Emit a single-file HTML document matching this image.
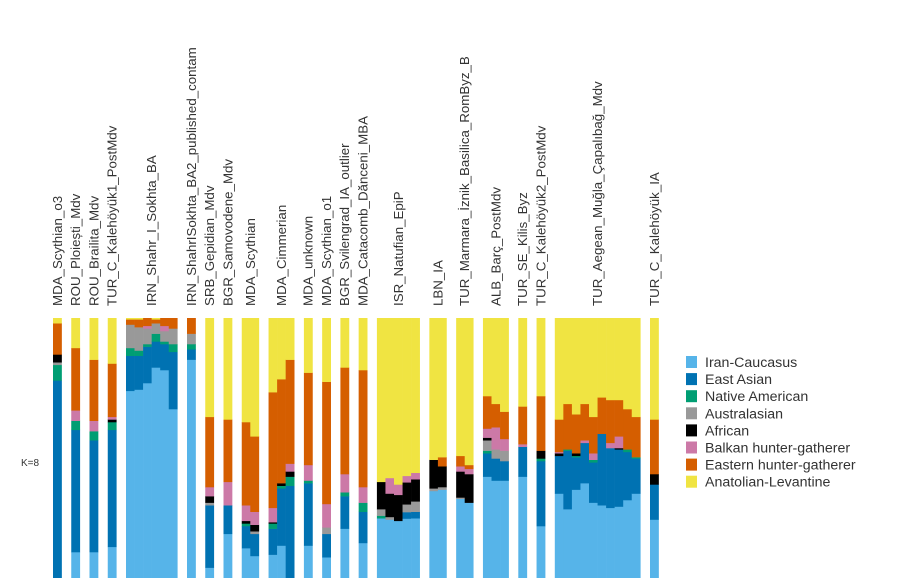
<!DOCTYPE html>
<html><head><meta charset="utf-8"><style>
html,body{margin:0;padding:0;background:#fff;}
svg{display:block;font-family:"Liberation Sans","DejaVu Sans",sans-serif;}
</style></head><body>
<svg id="chart" width="906" height="578" viewBox="0 0 906 578" xmlns="http://www.w3.org/2000/svg">
<text x="21" y="466" font-size="10" fill="#333">K=8</text>
<g id="bars"></g>
<g id="labels"></g>
<g id="legend"></g>
</svg>
<script>
// Ancestry components, bottom to top
const components = ["Iran-Caucasus","East Asian","Native American","Australasian","African","Balkan hunter-gatherer","Eastern hunter-gatherer","Anatolian-Levantine"];
const colors = ["#56B4E9","#0072B2","#009E73","#999999","#000000","#CC79A7","#D55E00","#F0E442"];
const populations = ["MDA_Scythian_o3","ROU_Ploiești_Mdv","ROU_Brailita_Mdv","TUR_C_Kalehöyük1_PostMdv","IRN_Shahr_I_Sokhta_BA","IRN_ShahrISokhta_BA2_published_contam","SRB_Gepidian_Mdv","BGR_Samovodene_Mdv","MDA_Scythian","MDA_Cimmerian","MDA_unknown","MDA_Scythian_o1","BGR_Svilengrad_IA_outlier","MDA_Catacomb_Dănceni_MBA","ISR_Natufian_EpiP","LBN_IA","TUR_Marmara_İznik_Basilica_RomByz_B","ALB_Barç_PostMdv","TUR_SE_Kilis_Byz","TUR_C_Kalehöyük2_PostMdv","TUR_Aegean_Muğla_Çapalıbağ_Mdv","TUR_C_Kalehöyük_IA"];
// Individual ancestry proportions (%) per population: [IC, EA, NatAm, Aus, Afr, BHG, EHG, Anat]
const pop0 = [[0,76,6,1,3,0,12,2]];
const pop1 = [[10,47,3.5,0,0,4,24,11.5]];
const pop2 = [[10,43,3.5,0,0,4,23.5,16]];
const pop3 = [[12,45,3,0,1,1,20.5,17.5]];
const pop4 = [[72,13.5,3,9,0,0,2,0.5],[72.5,13,2,9,0,0,3,0.5],[75,14,1,6,0,1,3,0],[81,10,3,4,0,0,1.5,0.5],[80,10,1,4,0,2,3,0],[65,22,3,6,0,0,4,0]];
const pop5 = [[84,4,2,4,0,0,6,0]];
const pop6 = [[4,24,0,1,2.5,3.5,27,38]];
const pop7 = [[17,11,0,0,0,9,24,39]];
const pop8 = [[11.5,8.5,1,0,1,6,32,40],[8.5,8.5,0,1,2.5,5,29,45.5]];
const pop9 = [[9,10,2,0,0.5,5.5,44.5,28.5],[12.5,22,1,0,1,0,40,23.5],[0,35.5,3.5,0,2,3,40,16]];
const pop10 = [[12.5,24,1,0,0,6,35.5,21]];
const pop11 = [[8,9,0,2.5,0,9,47,24.5]];
const pop12 = [[19,12.5,1.5,0,0,7,41,19]];
const pop13 = [[13.5,12,3.5,0,0,6,45,20]];
const pop14 = [[23,0,1,2.5,10.5,0,0,63],[22.5,0,0,1,9,6,0,61.5],[22,0,0,0,10,4,0,64],[23,2.5,0,3,8.5,2.5,0,61],[23,2.5,0,4,8.5,2.5,0,59.5]];
const pop15 = [[33.5,0,0,1,11,0,0,54.5],[34,0,0,1,8,0,3.5,53.5]];
const pop16 = [[30.5,0,0,0.5,10,2,4,53],[29,0,0,0,11,2,1.5,56.5]];
const pop17 = [[39,9,1,4,1,3.5,12.5,30],[37.5,8.5,0,3.5,0,8.5,9,33],[37.5,7.5,0,4,0,4.5,10.5,36]];
const pop18 = [[39,11.5,0,0,0,1,14.5,34]];
const pop19 = [[20,25,1,0,3,0,21,30]];
const pop20 = [[32.5,14.5,0,0,1,0.5,12.5,39],[26.5,22.5,0.5,0,0,0,17.5,33],[34,12.5,0.5,0,1,0,15,37],[36.5,15.5,0,0,0,1,14,33],[29,15.5,1,0,0,2.5,14,38],[28,27.5,0,0,0,0,14,30.5],[27,23,0,0,0,2,16.5,31.5],[27.5,22,0,0,0.5,4.5,14,31.5],[30,18.5,1,0,0,0,15.5,35],[32.5,13.5,0.5,0,0,0,15.5,38]];
const pop21 = [[22.5,13.5,0,0,4,0,21,39]];
const individuals = [pop0,pop1,pop2,pop3,pop4,pop5,pop6,pop7,pop8,pop9,pop10,pop11,pop12,pop13,pop14,pop15,pop16,pop17,pop18,pop19,pop20,pop21];

const NS="http://www.w3.org/2000/svg";
const plotTop=318, plotBottom=578, plotH=plotBottom-plotTop;
const x0=53, barW=8.55, gap=9.7;
function yScale(frac){return plotBottom-frac*plotH;}
const barsG=document.getElementById('bars'), labG=document.getElementById('labels');
let x=x0;
individuals.forEach((pop,gi)=>{
  const gx=x;
  pop.forEach((ind,ii)=>{
    const tot=ind.reduce((a,b)=>a+b,0);
    let cum=0;
    ind.forEach((v,ci)=>{
      if(v<=0) return;
      const y1=yScale(cum/tot), y2=yScale((cum+v)/tot);
      cum+=v;
      const r=document.createElementNS(NS,'rect');
      r.setAttribute('x',x.toFixed(2));
      r.setAttribute('y',y2.toFixed(2));
      r.setAttribute('width',(barW+0.3).toFixed(2));
      r.setAttribute('height',(y1-y2+0.3).toFixed(2));
      r.setAttribute('fill',colors[ci]);
      
      
      barsG.appendChild(r);
    });
    x+=barW;
  });
  const cx=(gx+x)/2+4.5;
  const t=document.createElementNS(NS,'text');
  t.setAttribute('transform','translate('+cx.toFixed(1)+',306) rotate(-90)');
  t.setAttribute('font-size','13.3');
  t.setAttribute('fill','#333');
  t.textContent=populations[gi];
  
  
  labG.appendChild(t);
  x+=gap;
});
const legG=document.getElementById('legend');
components.forEach((c,i)=>{
  const y=356+i*17.1;
  const r=document.createElementNS(NS,'rect');
  r.setAttribute('x',686);r.setAttribute('y',y);r.setAttribute('width',11);r.setAttribute('height',12);
  r.setAttribute('fill',colors[i]);
  
  
  legG.appendChild(r);
  const t=document.createElementNS(NS,'text');
  t.setAttribute('x',705);t.setAttribute('y',y+11);
  t.setAttribute('font-size','14.2');t.setAttribute('fill','#333');
  t.textContent=c;
  
  
  legG.appendChild(t);
});
</script>
</body></html>
